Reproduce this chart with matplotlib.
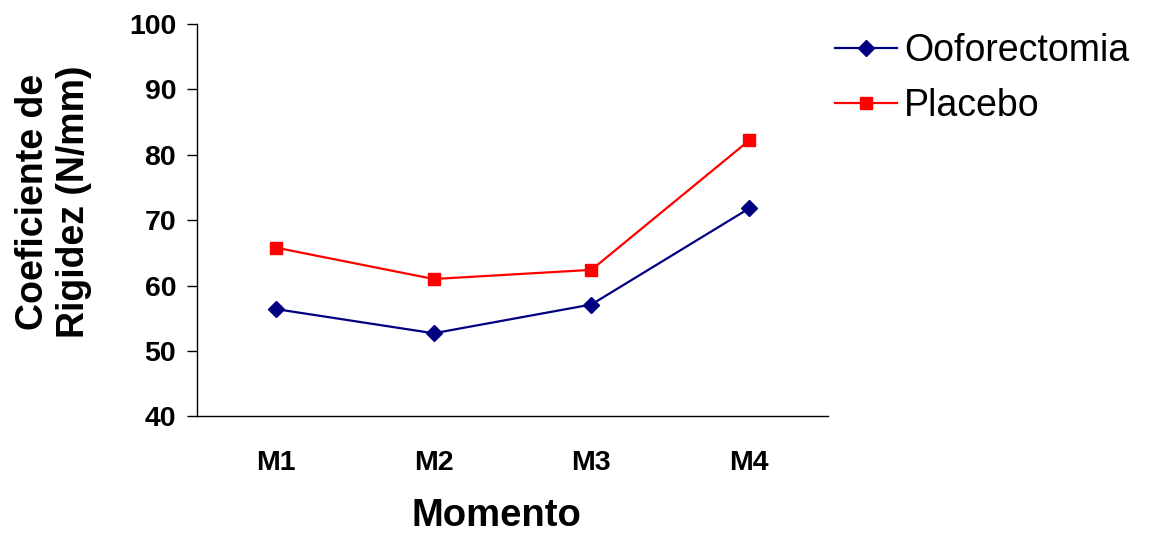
import matplotlib
matplotlib.use("Agg")
import matplotlib.pyplot as plt

# Stiffness coefficient by time point
momentos = ["M1", "M2", "M3", "M4"]
ooforectomia = [56.4, 52.7, 57.1, 71.8]
placebo = [65.8, 61.0, 62.4, 82.2]
y_ticks = [40, 50, 60, 70, 80, 90, 100]

plt.rcParams["font.family"] = ["Liberation Sans", "DejaVu Sans"]

fig = plt.figure(figsize=(11.51, 5.34), dpi=100)
ax = fig.add_axes([0.1712, 0.2204, 0.5482, 0.7346])

x = list(range(len(momentos)))
ax.plot(x, ooforectomia, color="#000080", lw=1.6, marker="D", ms=8,
        label="Ooforectomia")
ax.plot(x, placebo, color="#FF0000", lw=1.6, marker="s", ms=8.5,
        label="Placebo")

ax.set_xlim(-0.5, 3.5)
ax.set_ylim(40, 100)
ax.set_yticks(y_ticks)
ax.set_xticks(x)
ax.set_xticklabels(momentos, fontsize=20.5, fontweight="bold")
ax.set_yticklabels([str(v) for v in y_ticks], fontsize=20.5, fontweight="bold")
ax.tick_params(axis="y", direction="out", length=7, width=1, pad=8)
ax.tick_params(axis="x", length=0, pad=24)

for side in ("top", "right"):
    ax.spines[side].set_visible(False)
for side in ("left", "bottom"):
    ax.spines[side].set_linewidth(1.0)

ax.set_xlabel("Momento", fontsize=27.5, fontweight="bold")
ax.xaxis.set_label_coords(0.474, -0.253)
ax.xaxis.label.set_va("center")
fig.text(0.0465, 0.622, "Coeficiente de\nRigidez (N/mm)", rotation=90,
         ha="center", va="center", fontsize=27, fontweight="bold",
         linespacing=1.15)

fig.legend(loc="upper left", bbox_to_anchor=(0.696, 1.001), frameon=False,
           fontsize=27, handlelength=1.65, handletextpad=0.2,
           labelspacing=0.5)

fig.savefig("out.png", dpi=100)
